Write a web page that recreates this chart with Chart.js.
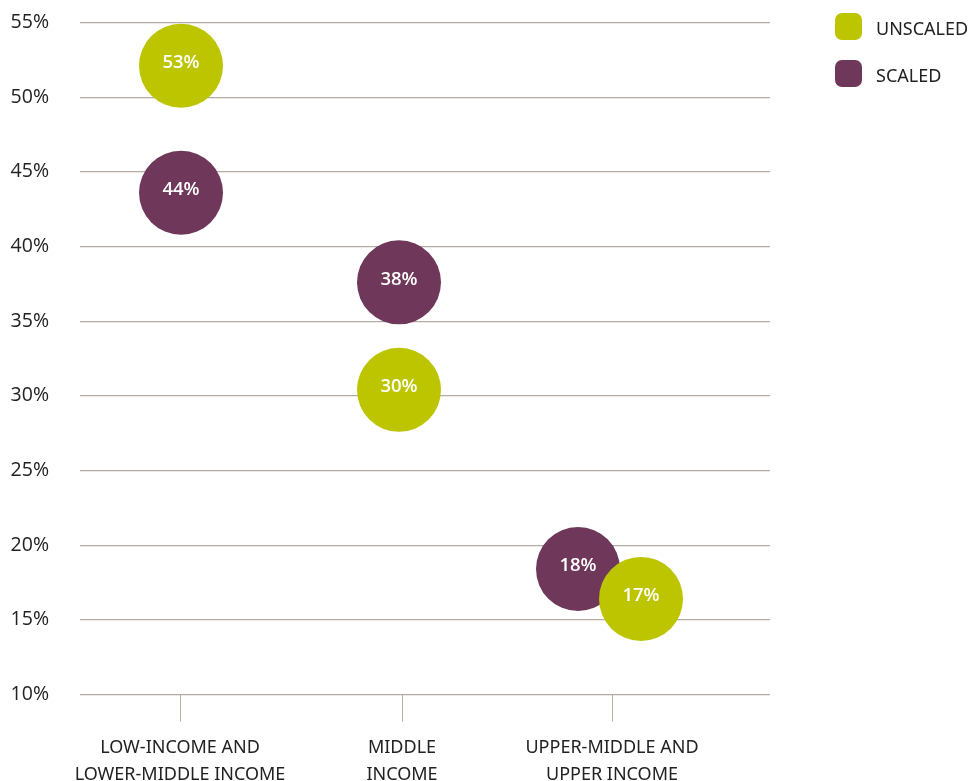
<!DOCTYPE html>
<html>
<head>
<meta charset="utf-8">
<script src="https://cdn.jsdelivr.net/npm/chart.js@4"></script>
<style>
  html, body { margin: 0; padding: 0; background: #fff; }
  #wrap { position: relative; width: 972px; height: 781px; }
  #legend { position: absolute; left: 835px; top: 13px; font-family: "Noto Sans", sans-serif; font-size: 18px; color: #222; }
  .item { display: flex; align-items: center; height: 27px; margin-bottom: 20px; }
  .item span { position: relative; top: 1px; }
  .box { width: 27px; height: 27px; border-radius: 7px; margin-right: 14px; }
</style>
</head>
<body>
<div id="wrap">
  <canvas id="chart" width="972" height="781"></canvas>
  <div id="legend"></div>
</div>
<script>
// categories and where they sit on the x scale
const categories = [["LOW-INCOME AND", "LOWER-MIDDLE INCOME"], ["MIDDLE", "INCOME"], ["UPPER-MIDDLE AND", "UPPER INCOME"]];
const categoryX = [1, 3.22, 5.32];

// series values (share, %) and the printed labels
const unscaledValues = [52.1, 30.4, 16.4];
const scaledValues = [43.6, 37.6, 18.4];
const unscaledLabels = ["53%", "30%", "17%"];
const scaledLabels = ["44%", "38%", "18%"];

// small sideways shift of each series inside a category
const unscaledShift = [0.01, -0.03, 0.29];
const scaledShift = [0.01, -0.03, -0.34];

const yTicks = [10, 15, 20, 25, 30, 35, 40, 45, 50, 55];

const green = "#bdc400";
const purple = "#6f3759";
const gridColor = "#b3ada4";

function points(values, shift, labels) {
  return values.map((v, i) => ({ x: categoryX[i] + shift[i], y: v, r: 42, label: labels[i] }));
}

const bubbleLabels = {
  id: "bubbleLabels",
  afterDatasetsDraw(chart) {
    const ctx = chart.ctx;
    ctx.save();
    ctx.fillStyle = "#fff";
    ctx.font = "600 18.5px 'Open Sans', sans-serif";
    ctx.textAlign = "center";
    ctx.textBaseline = "middle";
    chart.data.datasets.forEach((ds, di) => {
      chart.getDatasetMeta(di).data.forEach((el, i) => {
        ctx.fillText(ds.data[i].label, el.x, el.y - 3);
      });
    });
    ctx.restore();
  }
};

const ctx = document.getElementById("chart").getContext("2d");
new Chart(ctx, {
  type: "bubble",
  data: {
    datasets: [
      { label: "UNSCALED", data: points(unscaledValues, unscaledShift, unscaledLabels), backgroundColor: green, borderWidth: 0, hoverRadius: 0 },
      { label: "SCALED", data: points(scaledValues, scaledShift, scaledLabels), backgroundColor: purple, borderWidth: 0, hoverRadius: 0 }
    ]
  },
  options: {
    responsive: false,
    animation: false,
    events: [],
    layout: { autoPadding: false, padding: { left: 0, right: 202, top: 22.5, bottom: 0 } },
    plugins: { legend: { display: false }, tooltip: { enabled: false } },
    scales: {
      x: {
        type: "linear",
        min: 0,
        max: 6.9,
        afterBuildTicks: s => { s.ticks = categoryX.map(v => ({ value: v })); },
        afterFit: s => { s.height = 86.5; s.paddingLeft = 0; s.paddingRight = 0; },
        border: { display: false },
        grid: { drawOnChartArea: false, drawTicks: true, tickLength: 27, color: gridColor },
        ticks: {
          callback: (v, i) => categories[i],
          color: "#222",
          padding: 13,
          maxRotation: 0,
          autoSkip: false,
          font: { family: "'Liberation Sans Narrow', 'Noto Sans', sans-serif", size: 18, lineHeight: 1.5 }
        }
      },
      y: {
        min: 10,
        max: 55,
        afterBuildTicks: s => { s.ticks = yTicks.map(v => ({ value: v })); },
        afterFit: s => { s.width = 80; s.paddingTop = 0; s.paddingBottom = 0; },
        border: { display: false },
        grid: { drawTicks: false, color: gridColor, lineWidth: 1.2 },
        ticks: {
          callback: v => v + "%",
          color: "#222",
          padding: 31,
          font: { family: "'Open Sans', sans-serif", size: 19.5 }
        }
      }
    }
  },
  plugins: [bubbleLabels]
});

// legend
const legend = document.getElementById("legend");
[["UNSCALED", green], ["SCALED", purple]].forEach(([name, color]) => {
  const item = document.createElement("div");
  item.className = "item";
  item.innerHTML = '<div class="box" style="background:' + color + '"></div><span>' + name + '</span>';
  legend.appendChild(item);
});
</script>
</body>
</html>
